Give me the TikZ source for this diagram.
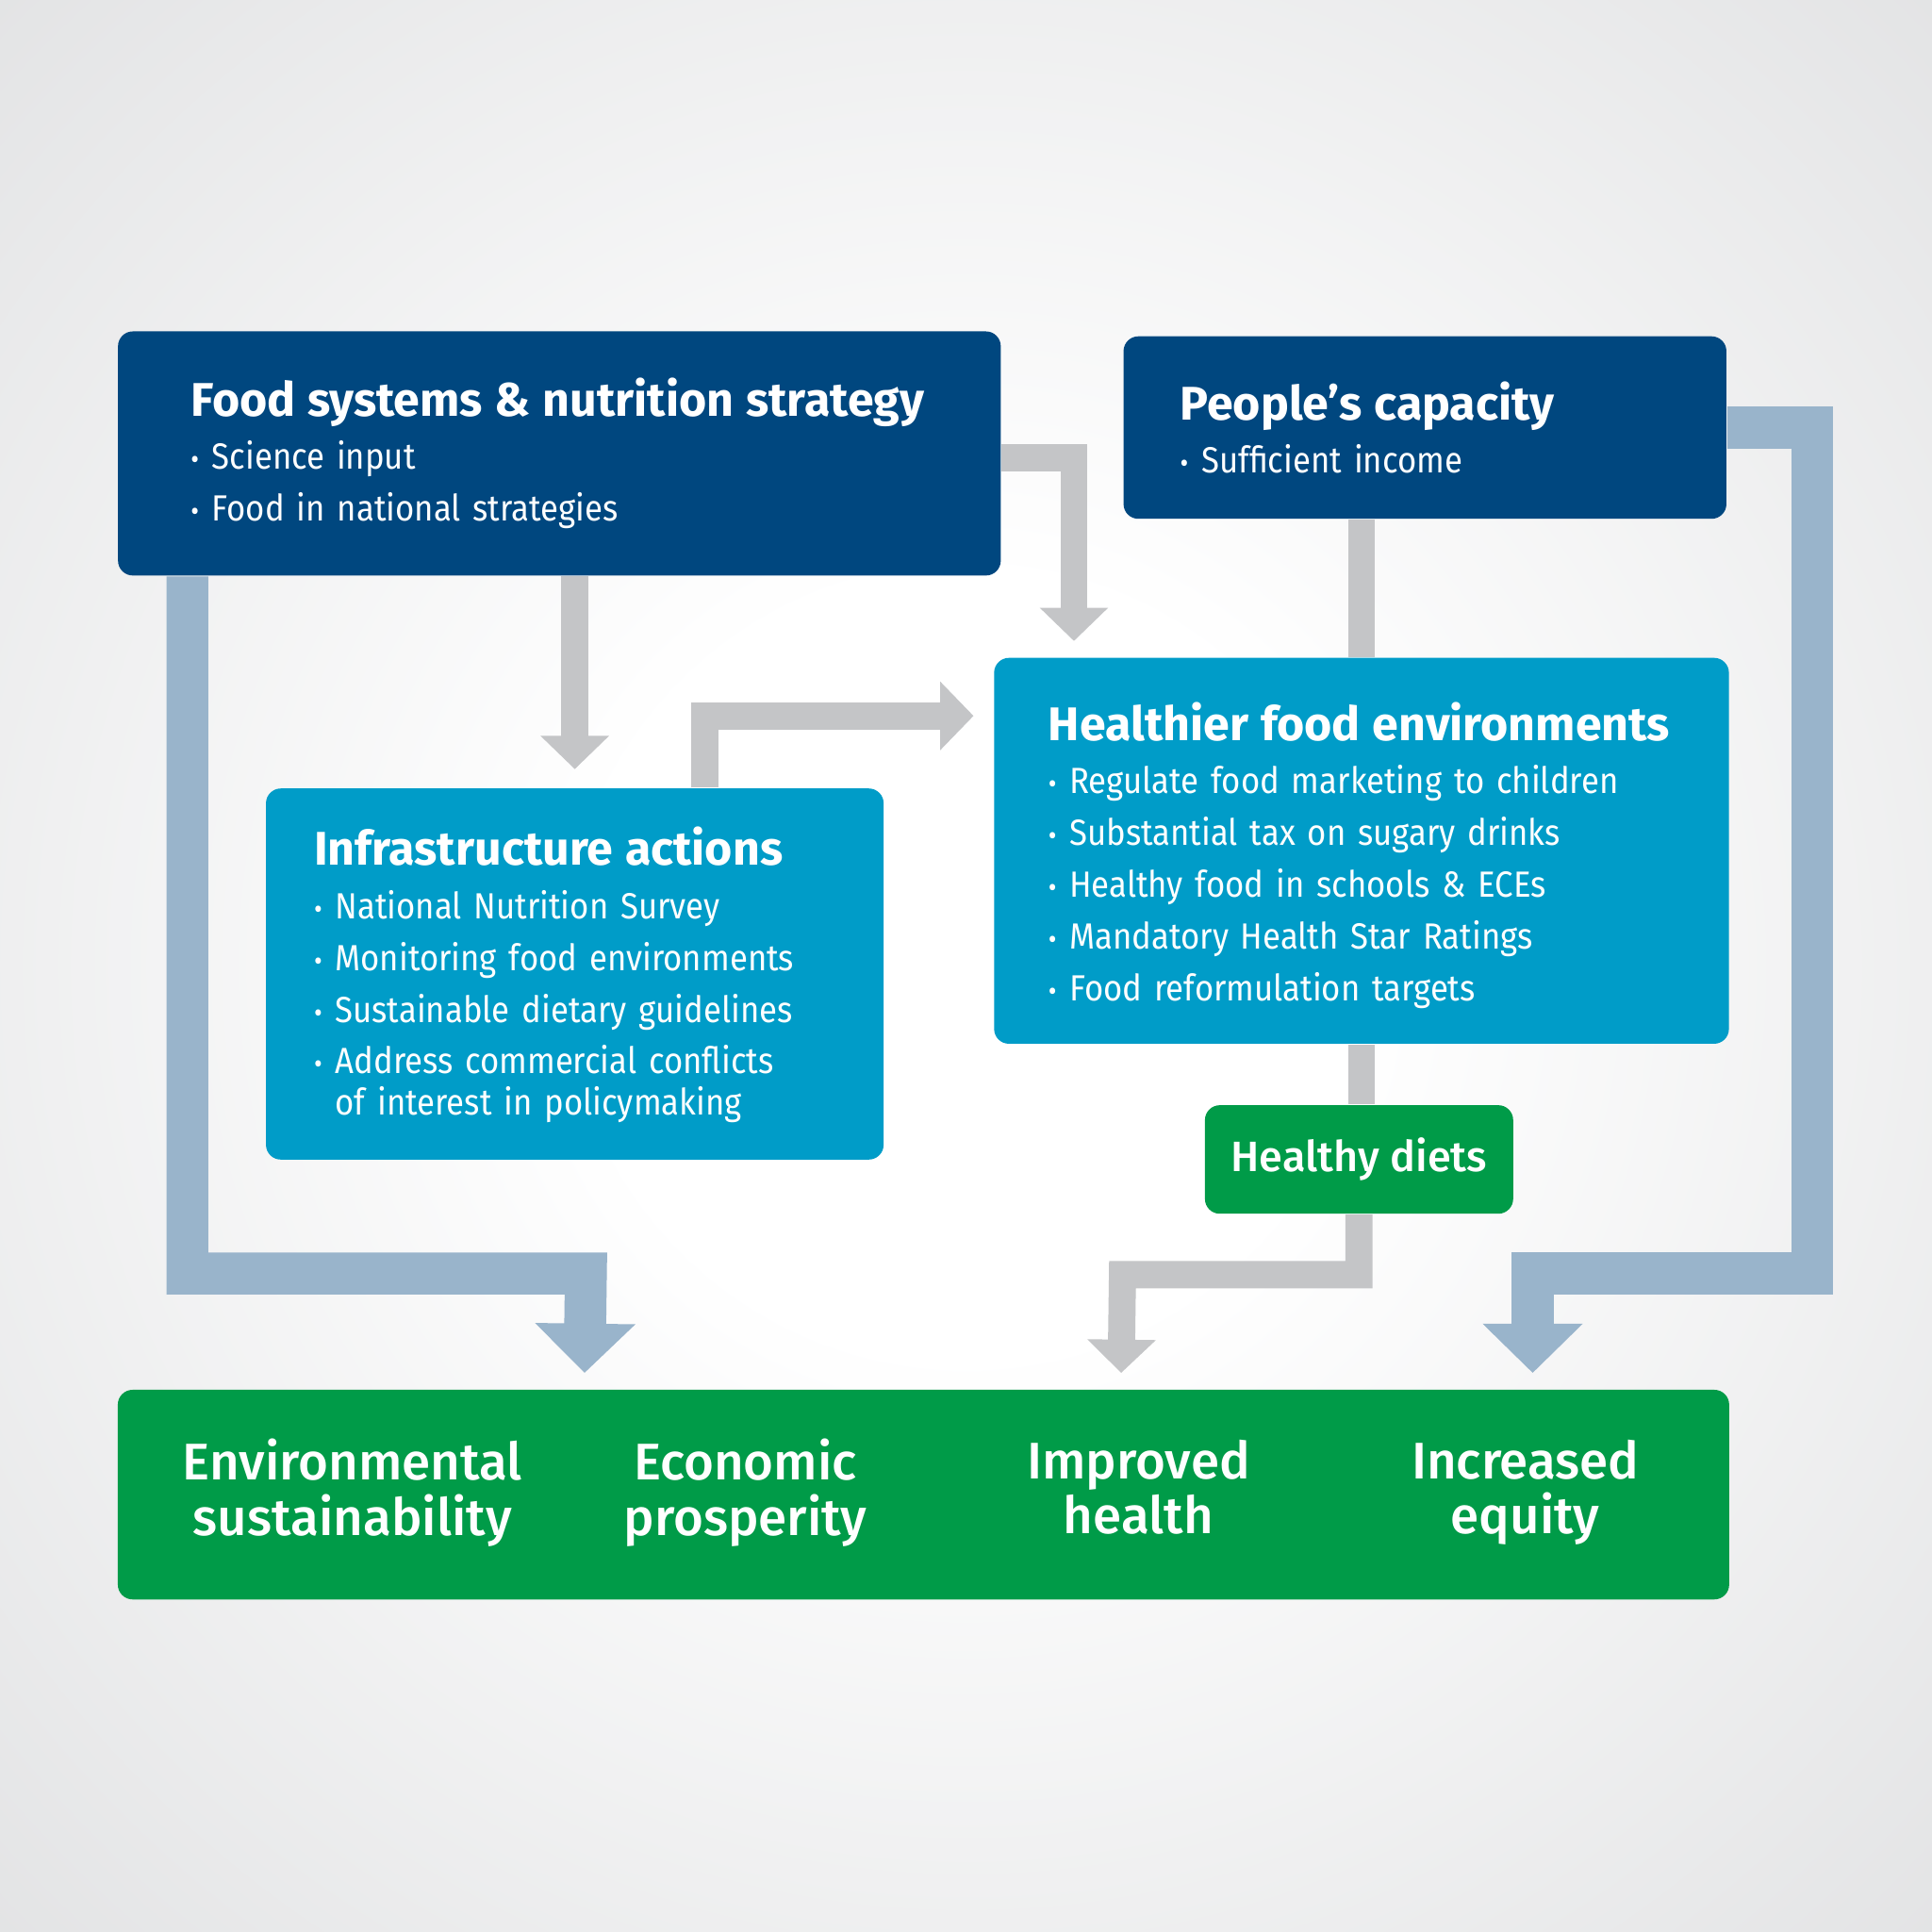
\documentclass[tikz,border=0pt]{standalone}
\usepackage{fontspec}
\setmainfont{Fira Sans}
\newfontfamily\bodyfont{Fira Sans}[FakeStretch=0.90, WordSpace=0.6]
\newfontfamily\medfont{Fira Sans Medium}
\usetikzlibrary{positioning,arrows.meta,calc}
\definecolor{navy}{HTML}{00477F}
\definecolor{sky}{HTML}{009CC8}
\definecolor{leaf}{HTML}{009B48}
\definecolor{pipe}{HTML}{C4C5C7}
\definecolor{steel}{HTML}{99B4CB}
\definecolor{bgedge}{HTML}{D3D4D6}
\pgfdeclareradialshading{haze}{\pgfpoint{0bp}{0bp}}{color(0bp)=(white); color(10bp)=(white); color(50bp)=(bgedge); color(71bp)=(bgedge!94!black)}
\newcommand{\itm}{{\fontsize{6.5}{5}\selectfont\textbullet}\hspace{3pt}}
\newcommand{\boxhead}[1]{{\normalfont\fontsize{10.9}{9.39}\selectfont\bfseries #1}}

\begin{document}
\begin{tikzpicture}[x=0.01cm, y=-0.01cm,
  box/.style={rounded corners=0.12cm, text=white, align=left, inner ysep=0pt,
              font=\bodyfont\fontsize{8.4}{9.39}\selectfont},
  outtxt/.style={text=white, align=center, font=\medfont\fontsize{11.9}{12.8}\selectfont,
                 execute at begin node={\rule{0pt}{10pt}}, execute at end node={\rule[-3pt]{0pt}{3pt}}},
  grayline/.style={draw=pipe, line width=0.22cm},
  grayarr/.style={grayline, -{Triangle[width=0.54cm, length=0.27cm]}},
  bluearr/.style={draw=steel, line width=0.34cm, -{Triangle[width=0.79cm, length=0.40cm]}},
]
  \shade[shading=haze] (0,0) rectangle (1568,1568);

  \node[box, fill=navy, text width=5.98cm, inner xsep=0.59cm, minimum height=1.98cm] (fss) at (454,368)
    {\boxhead{\rule{0pt}{8.9pt}Food systems \& nutrition strategy}\\[2.85pt]
     \itm Science input\\[2.56pt]
     \itm Food in national strategies};
  \node[box, fill=navy, text width=3.97cm, inner xsep=0.46cm, minimum height=1.48cm] (ppl) at (1156.5,347)
    {\boxhead{People’s capacity}\\[2.85pt]
     \itm Sufficient income};
  \node[box, fill=sky, text width=5.08cm, inner xsep=0.44cm, minimum height=3.13cm] (hfe) at (1105,690.5)
    {\boxhead{\rule{0pt}{11pt}Healthier food environments}\\[2.85pt]
     \itm Regulate food marketing to children\\[2.56pt]
     \itm Substantial tax on sugary drinks\\[2.56pt]
     \itm Healthy food in schools \& ECEs\\[2.56pt]
     \itm Mandatory Health Star Ratings\\[2.56pt]
     \itm Food reformulation targets};
  \node[box, fill=sky, text width=4.23cm, inner xsep=0.39cm, minimum height=3.01cm] (infra) at (466.5,790.5)
    {\boxhead{\rule{0pt}{9.2pt}Infrastructure actions}\\[2.85pt]
     \itm National Nutrition Survey\\[2.56pt]
     \itm Monitoring food environments\\[2.56pt]
     \itm Sustainable dietary guidelines\\[2.56pt]
     \itm Address commercial conflicts\\
     \phantom{\itm}of interest in policymaking};
  \node[box, fill=leaf, align=center, minimum width=2.5cm, minimum height=0.88cm,
        font=\medfont\fontsize{9.8}{10}\selectfont] (diets) at (1103,941) {Healthy diets};
  \node[box, fill=leaf, minimum width=13.07cm, minimum height=1.7cm] (outc) at (749.5,1213) {};

  \node[outtxt] (env) at (286,1212) {Environmental\\sustainability};
  \node[outtxt] (econ) at (605,1212) {Economic\\prosperity};
  \node[outtxt] (health) at (924,1212) {Improved\\health};
  \node[outtxt] (equity) at (1238,1212) {Increased\\equity};

  % grey links
  \draw[grayarr] ($(fss.east)+(0,3.5)$) -| ($(hfe.north west)+(65.5,-13)$);
  \draw[grayarr] (fss.south -| infra.north) -- ($(infra.north)+(0,-15)$);
  \draw[grayarr] ($(infra.north west)+(357,0)$) |- ($(hfe.west)+(-16,-109.5)$);
  \draw[grayline] (ppl.south -| hfe.north) -- (hfe.north);
  \draw[grayline] (hfe.south) -- (hfe.south |- diets.north);
  \draw[grayarr] (diets.south) |- (911,1034.5) -- ($(outc.north west)+(815,-13)$);

  % blue links
  \draw[bluearr] ($(fss.south west)+(57,0)$) |- (475.5,1033.5) -- ($(outc.north west)+(379.5,-13)$);
  \draw[bluearr] (ppl.east) -| (1471,1033.5) -| ($(outc.north west)+(1149,-13)$);
\end{tikzpicture}
\end{document}
